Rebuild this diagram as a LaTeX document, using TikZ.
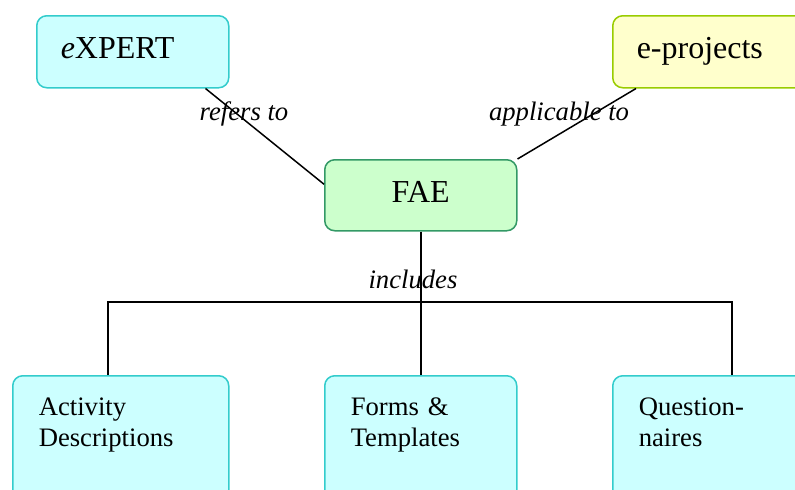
\documentclass[tikz,border=0pt]{standalone}
\usepackage{fontspec}
\setmainfont{Liberation Serif}
\newdimen\px \px=0.75pt
\definecolor{cyanfill}{HTML}{CCFFFF}
\definecolor{cyanline}{HTML}{33CCCC}
\definecolor{yellowfill}{HTML}{FFFFCC}
\definecolor{yellowline}{HTML}{99CC00}
\definecolor{greenfill}{HTML}{CCFFCC}
\definecolor{greenline}{HTML}{339966}
\tikzstyle{topbox} = [rectangle, rounded corners=10\px, line width=1.5\px, anchor=north west, minimum height=72\px, text height=21\px, text depth=7\px, inner xsep=24\px, text width=144\px, align=left, font=\fontsize{24}{28}\selectfont]
\tikzstyle{lowbox} = [rectangle, rounded corners=10\px, line width=1.5\px, anchor=north west, draw=cyanline, fill=cyanfill, inner xsep=26\px, inner ysep=22\px, text height=18\px, text depth=68\px, align=left, font=\fontsize{20}{23.25}\selectfont]
\tikzstyle{relation} = [anchor=base, font=\fontsize{20}{24}\selectfont\itshape]
\tikzstyle{link} = [line width=1.5\px]

\begin{document}
\begin{tikzpicture}[x=1\px, y=-1\px]
\useasboundingbox (0,0) rectangle (795,489);
\node (expert) [topbox, draw=cyanline, fill=cyanfill] at (36,15) {\textit{e}XPERT};
\node (eproj) [topbox, draw=yellowline, fill=yellowfill, text width=170\px] at (612,15) {e-projects};
\node (fae) [topbox, draw=greenline, fill=greenfill, align=center, minimum height=71\px] at (324,159) {FAE};
\node (activity) [lowbox, text width=164\px] at (12,375) {Activity\\Descriptions};
\node (forms) [lowbox, text width=140\px] at (324,375) {Forms \&\\Templates};
\node (quest) [lowbox, text width=170\px] at (612,375) {Question-\\naires};
\coordinate (busL) at (108,302);
\coordinate (busR) at (732,302);
\draw [link] ([xshift=-24\px]expert.south east) -- ([yshift=11\px]fae.west);
\draw [link] ([xshift=24\px]eproj.south west) -- (fae.north east);
\draw [link] (fae.south) -- (forms.north);
\draw [link] (busL |- activity.north) -- (busL) -- (busR) -- (busR |- quest.north);
\node (refers) [relation] at (244,120) {refers to};
\node (applies) [relation] at (559,120) {applicable to};
\node (includes) [relation] at (413,288) {includes};
\end{tikzpicture}
\end{document}
